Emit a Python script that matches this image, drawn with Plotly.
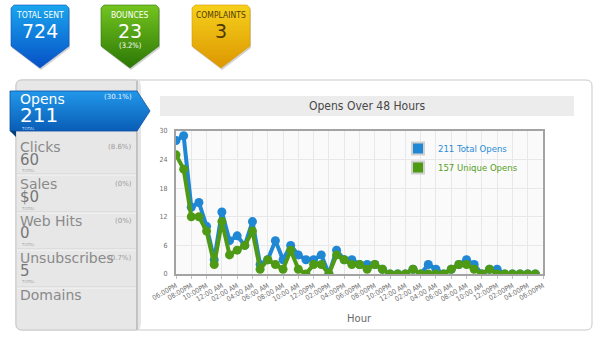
import plotly.graph_objects as go

W, H = 600, 339

# ---- data -------------------------------------------------------------
hours = list(range(48))
total_opens = [28, 29, 14, 15, 10, 3, 13, 7, 8, 6, 11, 2, 3, 7, 3, 6,
               4, 3, 3, 4, 0, 5, 3, 3, 2, 2, 2, 1, 0, 0, 0, 1,
               0, 2, 1, 0, 1, 2, 3, 2, 0, 1, 1, 0, 0, 0, 0, 0]
unique_opens = [25, 22, 12, 12, 9, 2, 11, 4, 5, 6, 9, 1, 3, 2, 1, 5,
                1, 0, 2, 2, 0, 4, 3, 2, 2, 1, 2, 1, 0, 0, 0, 1,
                0, 0, 0, 0, 1, 2, 2, 1, 0, 1, 0, 0, 0, 0, 0, 0]
hour_labels = ["06:00PM", "08:00PM", "10:00PM", "12:00 AM", "02:00 AM", "04:00 AM",
               "06:00 AM", "08:00 AM", "10:00 AM", "12:00PM", "02:00PM", "04:00PM",
               "06:00PM", "08:00PM", "10:00PM", "12:00 AM", "02:00 AM", "04:00 AM",
               "06:00 AM", "08:00 AM", "10:00 AM", "12:00PM", "02:00PM", "04:00PM",
               "06:00PM"]
y_ticks = [0, 6, 12, 18, 24, 30]

badge_titles = ["TOTAL SENT", "BOUNCES", "COMPLAINTS"]
badge_values = ["724", "23", "3"]
badge_notes = ["", "(3.2%)", ""]

side_names = ["Opens", "Clicks", "Sales", "Web Hits", "Unsubscribes", "Domains"]
side_values = [str(sum(total_opens)), "60", "$0", "0", "5", ""]
side_pcts = ["(30.1%)", "(8.6%)", "(0%)", "(0%)", "(0.7%)", ""]

# ---- styling ----------------------------------------------------------
F = "DejaVu Sans"
F2 = "DejaVu Sans Condensed, DejaVu Sans"
BLUE = "#1f87d3"
GREEN = "#4f9a15"
badge_colors = [("#1aa6ee", "#0650c6"), ("#74c51f", "#2c7606"), ("#f6d01c", "#dc9700")]
badge_text = ["white", "white", "#4d3a00"]
badge_left = [11, 101, 192]
BADGE_W = 58


def fx(x):
    return x / W


def fy(y):
    return 1 - y / H


def prect(x0, y0, x1, y1, **kw):
    return dict(type="rect", xref="paper", yref="paper", layer="below",
                x0=fx(x0), x1=fx(x1), y0=fy(y1), y1=fy(y0), **kw)


def pline(x0, y0, x1, y1, color, width=1):
    return dict(type="line", xref="paper", yref="paper", layer="below",
                x0=fx(x0), x1=fx(x1), y0=fy(y0), y1=fy(y1),
                line=dict(color=color, width=width))


def rounded_path(x0, y0, x1, y1, r):
    def p(x, y):
        return f"{fx(x):.5f},{fy(y):.5f}"
    return (f"M{p(x0 + r, y0)} L{p(x1 - r, y0)} Q{p(x1, y0)} {p(x1, y0 + r)} "
            f"L{p(x1, y1 - r)} Q{p(x1, y1)} {p(x1 - r, y1)} L{p(x0 + r, y1)} "
            f"Q{p(x0, y1)} {p(x0, y1 - r)} L{p(x0, y0 + r)} Q{p(x0, y0)} {p(x0 + r, y0)} Z")


fig = go.Figure()

# ---- chart series -----------------------------------------------------
fig.add_trace(go.Scatter(x=hours, y=total_opens, mode="lines+markers",
                         line=dict(color=BLUE, width=4),
                         marker=dict(size=9, color=BLUE),
                         showlegend=False, xaxis="x", yaxis="y"))
fig.add_trace(go.Scatter(x=hours, y=unique_opens, mode="lines+markers",
                         line=dict(color=GREEN, width=4),
                         marker=dict(size=9, color=GREEN),
                         showlegend=False, xaxis="x", yaxis="y"))
# legend entries with square swatches
fig.add_trace(go.Scatter(x=[None], y=[None], mode="markers",
                         marker=dict(symbol="square", size=9, color=BLUE,
                                     line=dict(color="#d0d0d0", width=1)),
                         name=f"<span style='color:#2a8bd6'>{sum(total_opens)} Total Opens</span>",
                         xaxis="x", yaxis="y"))
fig.add_trace(go.Scatter(x=[None], y=[None], mode="markers",
                         marker=dict(symbol="square", size=9, color=GREEN,
                                     line=dict(color="#d0d0d0", width=1)),
                         name=f"<span style='color:#55a01b'>{sum(unique_opens)} Unique Opens</span>",
                         xaxis="x", yaxis="y"))

# ---- badges (gradient shields) on a pixel-space overlay ---------------
for i, left in enumerate(badge_left):
    L, R = left, left + BADGE_W
    C = (L + R) / 2
    T, S, Y = 5, 46, 68
    xs = [L, L + 3, R - 3, R, R, C, L, L]
    ys = [T + 3, T, T, T + 3, S, Y, S, T + 3]
    fig.add_trace(go.Scatter(x=[v + 1 for v in xs], y=[v + 2 for v in ys],
                             mode="lines", fill="toself",
                             fillcolor="rgba(0,0,0,0.18)", line=dict(width=0),
                             showlegend=False, hoverinfo="skip",
                             xaxis="x2", yaxis="y2"))
    top, bot = badge_colors[i]
    fig.add_trace(go.Scatter(x=xs, y=ys, mode="lines", fill="toself",
                             fillgradient=dict(type="vertical",
                                               colorscale=[[0, top], [1, bot]],
                                               start=T, stop=Y),
                             line=dict(width=0.6, color=bot),
                             showlegend=False, hoverinfo="skip",
                             xaxis="x2", yaxis="y2"))

# selected "Opens" banner with arrow tip and fold
bx = [10, 137, 150, 137, 10, 10]
by = [91, 91, 111, 131, 131, 91]
fig.add_trace(go.Scatter(x=bx, y=by, mode="lines", fill="toself",
                         fillgradient=dict(type="vertical",
                                           colorscale=[[0, "#2198ea"], [1, "#0a5db6"]],
                                           start=91, stop=131),
                         line=dict(width=0.8, color="#0a4f9e"),
                         showlegend=False, hoverinfo="skip",
                         xaxis="x2", yaxis="y2"))
fig.add_trace(go.Scatter(x=[10, 16, 16, 10], y=[131, 131, 137, 131], mode="lines",
                         fill="toself", fillcolor="#063f7c", line=dict(width=0),
                         showlegend=False, hoverinfo="skip",
                         xaxis="x2", yaxis="y2"))

# ---- background shapes -------------------------------------------------
shapes = []
# outer panel
shapes.append(dict(type="path", xref="paper", yref="paper", layer="below",
                   path=rounded_path(16, 80, 592, 330, 6),
                   fillcolor="white", line=dict(color="#c9c9c9", width=1)))
# sidebar
shapes.append(dict(type="path", xref="paper", yref="paper", layer="below",
                   path=rounded_path(16, 80, 140, 330, 6),
                   fillcolor="#e7e7e7", line=dict(color="#c9c9c9", width=1)))
shapes.append(prect(137, 81, 140, 330, fillcolor="white", line=dict(width=0)))
shapes.append(pline(137, 81, 137, 330, "#b3b3b3", 1.5))
shapes.append(pline(139, 81, 139, 330, "#dddddd", 1.5))
for sy in [174, 212, 249, 287]:
    shapes.append(pline(17, sy, 136, sy, "#d2d2d2", 1))
    shapes.append(pline(17, sy + 1, 136, sy + 1, "#f6f6f6", 1))
# chart title bar
shapes.append(prect(160, 96, 574, 116, fillcolor="#ececec", line=dict(width=0)))
# plot background
shapes.append(prect(176, 131, 543, 274, fillcolor="#fafafa", line=dict(width=0)))

# ---- text --------------------------------------------------------------
ann = []


def text(x, y, s, size, color, anchor="left", family=F):
    ann.append(dict(x=x, y=y, xref="x2", yref="y2", text=s, showarrow=False,
                    xanchor=anchor, yanchor="middle",
                    font=dict(size=size, color=color, family=family)))


for i, left in enumerate(badge_left):
    c = left + BADGE_W / 2
    text(c, 15, badge_titles[i], 8.5, badge_text[i], "center", F2)
    text(c, 31, badge_values[i], 19, badge_text[i], "center", F)
    if badge_notes[i]:
        text(c, 45, badge_notes[i], 7.5, badge_text[i], "center", F2)

row_y = [(99, 115, 97, 128), (147, 160, 147, 170), (184, 197, 184, 208),
         (221, 233, 221, 244), (258, 271, 258, 281), (295, None, None, None)]
for i, name in enumerate(side_names):
    ny, vy, py, ty = row_y[i]
    sel = i == 0
    text(18, ny, name, 14, "white" if sel else "#8a8a8a")
    if side_values[i]:
        text(18, vy, side_values[i], 20 if sel else 15, "white" if sel else "#777777")
        text(134, py, side_pcts[i], 7, "#e8f3ff" if sel else "#9a9a9a", "right")
        text(19, ty, "TOTAL", 4, "#bcdcff" if sel else "#a8a8a8")

text(367, 106, "Opens Over 48 Hours", 12, "#474747", "center", F2)
text(359, 318, "Hour", 10, "#6a6a6a", "center", F)

# ---- layout ------------------------------------------------------------
fig.update_layout(
    width=W, height=H,
    margin=dict(l=0, r=0, t=0, b=0),
    paper_bgcolor="white",
    plot_bgcolor="rgba(0,0,0,0)",
    shapes=shapes,
    annotations=ann,
    showlegend=True,
    legend=dict(x=fx(398), y=fy(134), xanchor="left", yanchor="top",
                bgcolor="rgba(0,0,0,0)", font=dict(size=9.5, family=F2),
                itemsizing="constant", tracegroupgap=0),
    xaxis=dict(domain=[fx(176), fx(543)], range=[0, 48],
               tickvals=hours[::2] + [48], ticktext=hour_labels,
               tickangle=-30, tickfont=dict(size=7, color="#707070", family=F2),
               showgrid=True, gridcolor="#e8e8e8", gridwidth=1,
               showline=True, mirror=True, linecolor="#a3a3a3", linewidth=2,
               ticks="outside", ticklen=3, tickcolor="#c0c0c0",
               zeroline=False, automargin=False, fixedrange=True, anchor="y"),
    yaxis=dict(domain=[fy(274), fy(131)], range=[0, 30], tickvals=y_ticks,
               tickfont=dict(size=7, color="#707070", family=F2),
               showgrid=True, gridcolor="#e8e8e8", gridwidth=1,
               showline=True, mirror=True, linecolor="#a3a3a3", linewidth=2,
               ticks="outside", ticklen=5, tickcolor="rgba(0,0,0,0)",
               zeroline=False, automargin=False, fixedrange=True, anchor="x"),
    xaxis2=dict(domain=[0, 1], range=[0, W], visible=False, fixedrange=True,
                anchor="y2", showgrid=False, zeroline=False),
    yaxis2=dict(domain=[0, 1], range=[H, 0], visible=False, fixedrange=True,
                anchor="x2", showgrid=False, zeroline=False),
)

fig.write_html("out.html")
